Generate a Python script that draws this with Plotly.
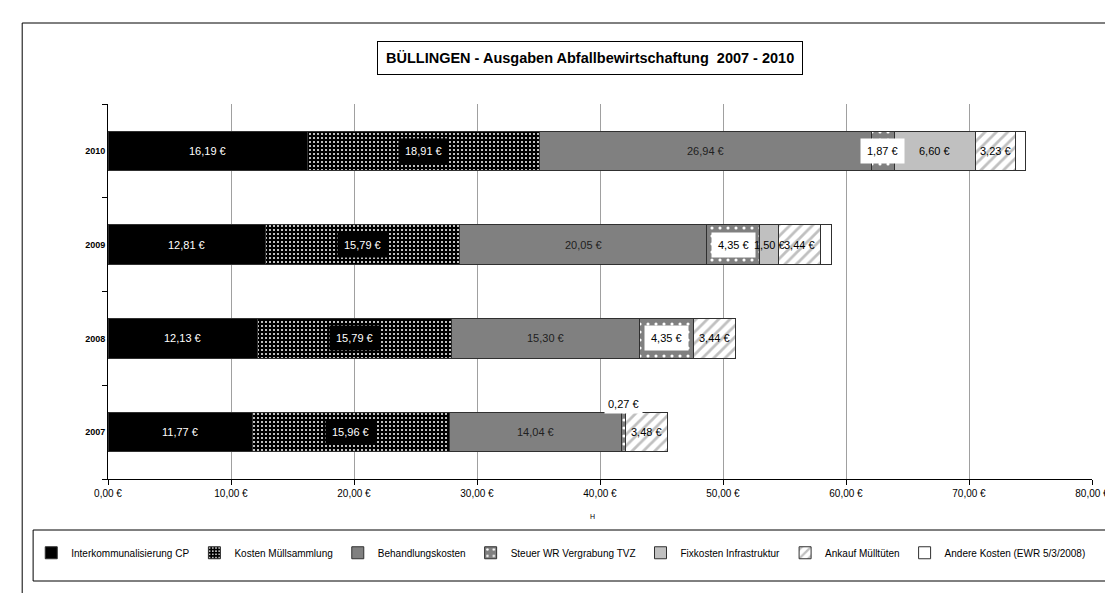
import plotly.graph_objects as go

years = ["2007", "2008", "2009", "2010"]
series_names = [
    "Interkommunalisierung CP",
    "Kosten Müllsammlung",
    "Behandlungskosten",
    "Steuer WR Vergrabung TVZ",
    "Fixkosten Infrastruktur",
    "Ankauf Mülltüten",
    "Andere Kosten (EWR 5/3/2008)",
]
interkommunal = [11.77, 12.13, 12.81, 16.19]
muellsammlung = [15.96, 15.79, 15.79, 18.91]
behandlung = [14.04, 15.30, 20.05, 26.94]
steuer_wr = [0.27, 4.35, 4.35, 1.87]
fixkosten = [0.0, 0.0, 1.50, 6.60]
ankauf = [3.48, 3.44, 3.44, 3.23]
andere = [0.0, 0.0, 0.90, 0.89]
x_ticks = [0, 10, 20, 30, 40, 50, 60, 70, 80]
x_ticktext = ["0,00 €", "10,00 €", "20,00 €", "30,00 €", "40,00 €", "50,00 €", "60,00 €", "70,00 €", "80,00 €"]
title_text = "BÜLLINGEN - Ausgaben Abfallbewirtschaftung  2007 - 2010"

all_series = [interkommunal, muellsammlung, behandlung, steuer_wr, fixkosten, ankauf, andere]

FONT = "Liberation Sans Narrow, Arial Narrow, Liberation Sans, Arial, sans-serif"

def nfont(size, color="#000000", weight="normal"):
    return dict(family=FONT, size=size, color=color, weight=weight)

styles = [
    dict(color="#000000"),
    dict(color="#000000", pattern=dict(shape=".", bgcolor="#000000", fgcolor="#ffffff", size=4, solidity=0.2, fillmode="replace")),
    dict(color="#808080"),
    dict(color="#808080", pattern=dict(shape=".", bgcolor="#808080", fgcolor="#ffffff", size=8, solidity=0.12, fillmode="replace")),
    dict(color="#C0C0C0"),
    dict(color="#ffffff", pattern=dict(shape="/", bgcolor="#ffffff", fgcolor="#C0C0C0", size=8, solidity=0.35, fillmode="replace")),
    dict(color="#ffffff"),
]

fig = go.Figure()
for name, vals, st in zip(series_names, all_series, styles):
    fig.add_trace(go.Bar(
        y=years, x=vals, name=name, orientation="h",
        marker=dict(line=dict(color="#303030", width=1), **st),
        width=0.42, hoverinfo="skip",
    ))

def fmt(v):
    return f"{v:.2f}".replace(".", ",") + " €"

label_styles = [
    dict(font_color="#ffffff", bg=None),
    dict(font_color="#ffffff", bg="#000000"),
    dict(font_color="#202020", bg=None),
    dict(font_color="#000000", bg="#ffffff"),
    dict(font_color="#000000", bg=None),
    dict(font_color="#000000", bg=None),
]

annotations = []
for j, yr in enumerate(years):
    cum = 0.0
    for i, vals in enumerate(all_series):
        v = vals[j]
        if i < 6 and v > 0:
            ls = label_styles[i]
            ann = dict(
                x=cum + v / 2, y=j, xref="x", yref="y", text=fmt(v), showarrow=False,
                font=nfont(11, ls["font_color"]),
            )
            if ls["bg"]:
                ann.update(bgcolor=ls["bg"], borderpad=6)
            if v < 1:
                ann.update(yshift=28, bgcolor="#ffffff", borderpad=3)
            annotations.append(ann)
        cum += v

# title box
annotations.append(dict(
    x=0.490, y=1.123, xref="paper", yref="paper", xanchor="center", yanchor="middle",
    text="<b>" + title_text + "</b>",
    showarrow=False, font=nfont(14.5),
    bordercolor="#000000", borderwidth=1, borderpad=8, bgcolor="#ffffff",
))
# small axis-title glyph
annotations.append(dict(
    x=0.492, y=-0.099, xref="paper", yref="paper", xanchor="center", yanchor="middle",
    text="H", showarrow=False, font=nfont(7),
))

fig.update_layout(
    width=1113, height=593,
    margin=dict(l=100, r=27, t=96, b=122),
    barmode="stack",
    plot_bgcolor="#ffffff", paper_bgcolor="#ffffff",
    showlegend=True,
    legend=dict(
        orientation="h", x=-0.078, xanchor="left", y=-0.158, yanchor="top",
        borderwidth=0, bgcolor="rgba(0,0,0,0)",
        font=nfont(10),
        itemwidth=30, traceorder="normal",
    ),
    annotations=annotations,
    shapes=[
        dict(type="rect", xref="paper", yref="paper",
             x0=-0.0872, x1=1.0213, y0=-0.40, y1=1.216,
             line=dict(color="#000000", width=1), layer="below"),
        dict(type="rect", xref="paper", yref="paper",
             x0=-0.0761, x1=1.0142, y0=-0.272, y1=-0.136,
             line=dict(color="#000000", width=1), fillcolor="#ffffff", layer="below"),
    ],
)
fig.update_xaxes(
    range=[0, 80], tickvals=x_ticks, ticktext=x_ticktext,
    showgrid=True, gridcolor="#A0A0A0", gridwidth=1,
    showline=True, linecolor="#000000", linewidth=1,
    ticks="outside", ticklen=5, tickcolor="#000000",
    tickfont=nfont(10),
    zeroline=False,
)
fig.update_yaxes(
    type="category", categoryorder="array", categoryarray=years,
    range=[-0.5, 3.5],
    showgrid=False, showline=True, linecolor="#000000", linewidth=1,
    ticks="outside", ticklen=5, tickcolor="#000000", tickson="boundaries",
    tickfont=nfont(9, weight="bold"),
)

fig.write_html("out.html")
